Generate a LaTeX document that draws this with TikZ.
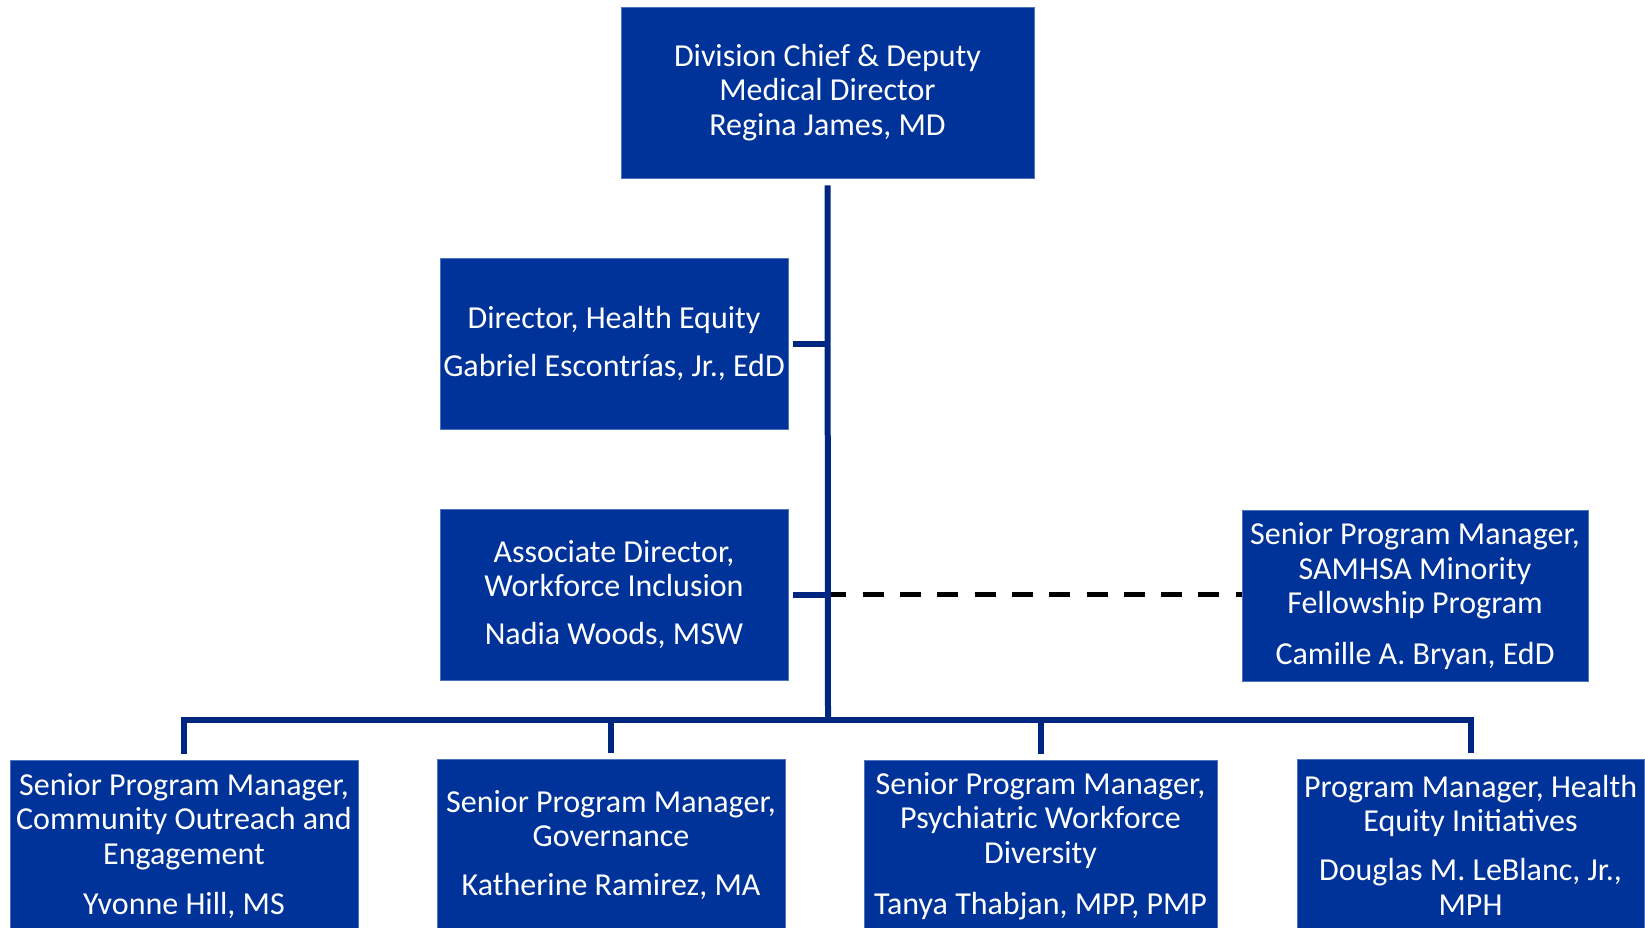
\documentclass[tikz,border=0pt]{standalone}
\usepackage{fontspec}
\setmainfont{Carlito}
\usepackage{tikz}
\definecolor{boxblue}{RGB}{0,51,153}
\definecolor{boxedge}{RGB}{80,115,190}
\definecolor{lineblue}{RGB}{0,38,130}

\begin{document}
\begin{tikzpicture}[x=1pt, y=-1pt]
    \tikzstyle{post}=[draw=boxedge, line width=.8pt, fill=boxblue, text=white, align=center,
      inner sep=0pt, minimum height=171pt, font=\fontsize{32}{34.6}\selectfont]
    \tikzstyle{link}=[draw=lineblue, line width=6pt]
    \clip (0,0) rectangle (1645,927);
    \node[post, minimum width=413pt] (chief) at (827.5,92.5)
      {Division Chief \& Deputy\\ Medical Director\\ Regina James, MD};
    \node[post, minimum width=348pt] (equity) at (614,343.5)
      {Director, Health Equity\\[13pt] Gabriel Escontrías, Jr., EdD};
    \node[post, minimum width=348pt] (incl) at (614,594.5)
      {Associate Director,\\ Workforce Inclusion\\[13pt] Nadia Woods, MSW};
    \node[post, minimum width=346pt] (samhsa) at (1415,596)
      {Senior Program Manager,\\ SAMHSA Minority\\ Fellowship Program\\[16pt] Camille A. Bryan, EdD};
    \node[post, minimum width=348pt] (outreach) at (184,846)
      {Senior Program Manager,\\ Community Outreach and\\ Engagement\\[16pt] Yvonne Hill, MS};
    \node[post, minimum width=348pt] (gov) at (611,845)
      {Senior Program Manager,\\ Governance\\[14pt] Katherine Ramirez, MA};
    \node[post, minimum width=353pt] (psych) at (1040.5,846)
      {Senior Program Manager,\\ Psychiatric Workforce\\ Diversity\\[16pt] Tanya Thabjan, MPP, PMP};
    \node[post, minimum width=347pt] (hei) at (1470.5,845)
      {Program Manager, Health\\ Equity Initiatives\\[14pt] Douglas M. LeBlanc, Jr.,\\ MPH};
    \coordinate (hub) at (828,720);
    \draw[black, line width=5.5pt, dash pattern=on 21pt off 16.3pt, dash phase=5.3pt,
      shorten <=5pt] (incl.east) -- (samhsa.west |- incl.east);
    \draw[link, shorten <=7pt] (chief.south) -- (hub);
    \draw[link, shorten <=5pt] (equity.east) -- (equity.east -| hub);
    \draw[link, shorten <=5pt] (incl.east) -- (incl.east -| hub);
    \draw[link, shorten <=6pt] (outreach.north) |- (hub);
    \draw[link, shorten <=6pt] (hei.north) |- (hub);
    \draw[link, shorten <=6pt] (gov.north) -- (gov.north |- hub);
    \draw[link, shorten <=6pt] (psych.north) -- (psych.north |- hub);
\end{tikzpicture}
\end{document}
